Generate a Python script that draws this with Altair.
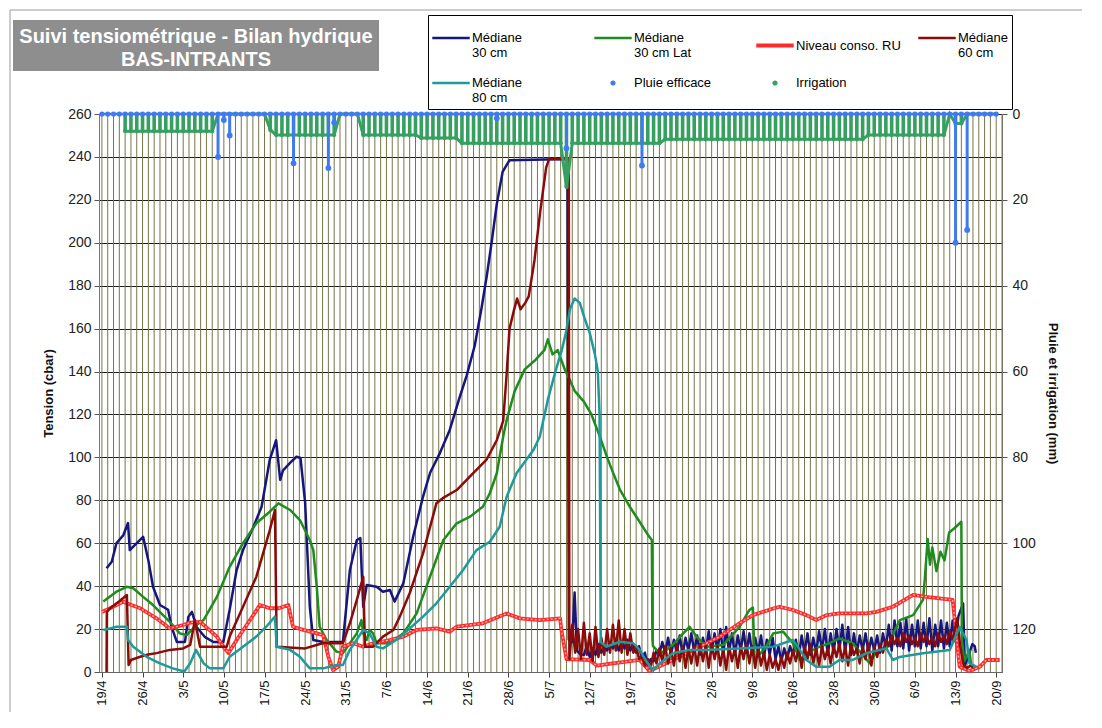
import altair as alt
import pandas as pd

FONT = "Liberation Sans"

# ---------------- legend / series ----------------
SERIES = ["Médiane|30 cm", "Médiane|30 cm Lat", "Niveau conso. RU", "Médiane|60 cm",
          "Médiane|80 cm", "Pluie efficace", "Irrigation"]
COLORS = ["#16167E", "#1E8C1E", "#FF2B2B", "#8B0B0B", "#1F9A9A", "#3F7AEE", "#36A060"]
LINE_SYM = "M-1,-0.07H1V0.07H-1Z"
RU_SYM = "M-1,-0.11H1V0.11H-1Z"
DOT_SYM = "M0,-0.14A0.14,0.14,0,1,1,0,0.14A0.14,0.14,0,1,1,0,-0.14Z"
SHAPES = [LINE_SYM, LINE_SYM, RU_SYM, LINE_SYM, LINE_SYM, DOT_SYM, DOT_SYM]

TITLE_LINES = ["Suivi tensiométrique  - Bilan hydrique", "BAS-INTRANTS"]
Y_LEFT_TITLE = "Tension (cbar)"
Y_RIGHT_TITLE = "Pluie et irrigation (mm)"
TICK_DAYS = list(range(0, 155, 7))          # days after 19/4 (weekly labels)
LEFT_TICKS = list(range(0, 261, 20))
RIGHT_TICKS = list(range(0, 121, 20))

# ---------------- tension series (day after 19/4, cbar) ----------------
M30_HEAD = [[0.8, 48.3], [1.7, 51.4], [2.5, 60], [3.7, 63.8], [4.5, 69.4], [4.8, 56.8], [6.0, 60],
            [7.1, 63], [8.0, 52], [8.8, 39.7], [10, 31.2], [11.4, 29], [12, 21], [12.9, 14], [14.3, 14],
            [14.9, 25.8], [15.5, 28], [16.3, 21], [17.7, 16.4], [19.2, 14], [20.9, 14], [22, 29],
            [23.2, 47.5], [24.3, 56.8], [26.1, 67.7], [27.5, 77], [28.9, 98.8], [30, 108], [30.7, 89.5],
            [31.2, 94], [32.4, 97.4], [33.5, 100.3], [34.2, 99.7], [35, 78.8], [35.8, 30.4], [36.4, 14.9],
            [38.1, 14], [41.5, 14], [42.7, 47.5], [43.9, 61.5], [44.5, 62.4], [45, 30.4], [45.6, 40.5],
            [47.3, 39.7], [48.4, 37.4], [49.6, 38.2], [50.4, 32.8], [51.9, 41.3], [53.6, 63], [55.3, 81.7],
            [56.5, 92.7], [58.2, 102], [59.9, 112.8], [61.6, 128], [62.8, 138], [64.2, 152], [65.4, 170],
            [66.3, 185], [67.1, 200], [68, 218], [69, 233], [70.2, 238.5], [80.2, 239], [80.4, 15],
            [81.0, 14], [81.4, 37], [81.8, 10], [82.5, 8]]
M30_NOISE_START = 83.0
M30_NOISE = [8, 12, 7, 11, 8, 13, 9, 12, 10, 13, 11, 14, 10, 14, 11, 15, 10, 13, 9, 12, 6, 9, 3, 6,
             5, 10, 8, 14, 9, 16, 8, 15, 9, 17, 8, 16, 10, 18, 9, 17, 8, 16, 10, 19, 9, 18, 10, 20,
             8, 21, 9, 18, 8, 17, 10, 19, 9, 18, 8, 16, 9, 17, 7, 15, 8, 16, 6, 12, 5, 11, 6, 12,
             8, 15, 7, 17, 9, 18, 8, 16, 9, 19, 10, 20, 8, 18, 9, 20, 10, 22, 9, 21, 8, 18, 9, 17,
             10, 18, 9, 16, 10, 17, 9, 18, 11, 22, 10, 24, 12, 23, 11, 25, 10, 22, 12, 24, 11, 23,
             12, 25, 10, 22, 12, 24, 11, 23, 12, 24, 14, 26]
M30_TAIL = [[148.3, 32], [148.6, 3], [149.4, 9], [149.9, 13], [150.3, 12], [150.5, 9]]

M30L_HEAD = [[0.24, 32.8], [2.5, 37.4], [4.3, 39.7], [5.4, 39], [7.1, 35], [8.8, 31.2], [11.7, 23.4],
             [13.4, 18], [14.6, 17.2], [16.3, 21.9], [17.5, 24.2], [19.8, 35], [22, 49], [24.3, 60],
             [26.6, 69.3], [28.9, 74.7], [30.4, 78.6], [32.4, 75.5], [34.1, 70.8], [35.8, 61.5],
             [36.4, 56.8], [37, 39.7], [37.5, 21.1], [38.7, 14.9], [40.4, 9.5], [41.5, 8.8], [42.7, 13.4],
             [43.9, 18], [44.7, 24.2], [45, 18], [45.6, 14.9], [46.1, 19.6], [46.7, 18], [47.3, 13.4],
             [49.6, 13.4], [51.9, 18], [54.2, 27.3], [56.5, 44.4], [58.8, 61.5], [61.1, 69.3],
             [63.4, 72.4], [65.6, 77], [66.8, 83.3], [68, 92.6], [69.1, 109.6], [69.7, 117.4],
             [71.1, 131], [72.8, 141], [74.5, 145], [76.2, 150], [76.8, 155], [77.6, 148], [78.5, 150],
             [79.7, 141], [80.6, 136], [81.4, 131], [83, 126], [84.3, 120], [85.7, 110], [87, 100],
             [88, 93], [89.2, 85], [90.9, 77], [92.6, 70], [94, 64], [94.7, 61.5], [94.8, 15],
             [94.9, 12], [96.1, 8.7], [97.2, 10.3], [98.3, 12.6],
             [100.1, 18], [101.2, 21], [102.4, 16.5], [104.1, 11.8], [107, 12.6], [109.8, 21],
             [111.5, 28.9], [112.1, 30], [112.4, 5.6], [114.4, 11.8], [115.6, 18], [117.3, 18.8],
             [119, 13.4], [120.2, 5.6], [121.3, 8.7], [123.6, 11.8], [125.3, 13.4], [127, 15.7],
             [129.3, 13.4], [131, 7.9], [132.2, 4.1], [133.4, 9.5], [135.1, 11], [137.4, 24.2],
             [139.7, 26.5], [141.4, 33.6], [141.7, 43], [142.2, 62], [142.6, 50], [143, 58], [143.7, 47],
             [144.4, 56], [145.1, 52], [145.9, 65], [146.8, 67], [148, 70], [148.1, 15], [148.5, 5],
             [149.4, 10], [149.7, 3]]

RU_PTS = [[0, 28], [1.4, 29.7], [3.7, 32.8], [4.3, 32], [6.6, 29.7], [9.4, 25], [11.7, 20.3], [14, 21.9],
          [15.2, 23], [16.9, 23.4], [19.8, 16.5], [20.9, 11.8], [21.8, 8.8], [23.2, 14.9], [25.5, 24.2],
          [27.2, 31.2], [28.9, 29.7], [30.5, 29.7], [32.1, 31.2], [32.9, 21.1], [34.7, 19.6], [37, 18],
          [38.1, 17.2], [39, 7.1], [39.8, 0.9], [40.7, 2.5], [41.5, 11.8], [43.3, 13.4], [45, 11.8],
          [46.7, 13.4], [49.6, 14.9], [51.9, 16.5], [54.2, 19.6], [57.6, 20.3], [59.9, 18.8],
          [61.1, 21.1], [65.6, 22.7], [69.7, 27.3], [72, 25], [75.4, 24.2], [78.9, 25], [79.1, 20],
          [80, 6], [84, 5.6], [85.2, 3], [88, 4], [92.6, 5.6], [94.3, 0.5], [98.3, 5.6], [102.4, 11],
          [106.4, 16.5], [109.8, 22.7], [112.1, 26.5], [115.6, 29.6], [116.7, 30.4], [119, 28.9],
          [121.3, 26.5], [123, 24.2], [124.8, 26.5], [127, 27.3], [131.6, 27.3], [133.4, 28],
          [136.2, 30.4], [139.7, 35.9], [142, 35], [146.5, 33.6], [147.1, 18], [147.7, 2.5],
          [149.4, 0.5], [151.2, 2.5], [152.3, 5.6], [154.6, 5.6]]

M60_HEAD = [[0.8, 0], [0.85, 28], [1.4, 29.7], [3, 33], [4.3, 35.9], [4.6, 3.3], [5, 5.6], [6.6, 7.1],
            [7.7, 8], [9.4, 8.8], [11.7, 10.3], [14, 11], [15.2, 12.6], [15.7, 19.6], [16, 24.2],
            [16.9, 11.8], [21.5, 11.8], [22, 16.5], [24.3, 30.4], [26.6, 44.4], [28.9, 66], [29.8, 75.5],
            [30.1, 11.8], [35, 11], [38, 13.4], [41.5, 13.4], [42.7, 22.7], [43.9, 33.6], [45, 44.4],
            [45.3, 11.8], [46.7, 11.8], [48.4, 16.5], [50.2, 19.6], [51.3, 25.8], [53, 36.7],
            [55.3, 55.3], [57.6, 78.6], [58.7, 81], [61.1, 84.8], [63.9, 92.6], [66.2, 98.8], [68, 108],
            [69.1, 117], [69.6, 135], [70.2, 160], [70.9, 168], [71.5, 174], [72.1, 169], [72.9, 172],
            [73.5, 175], [74.5, 192], [75.5, 215], [76.5, 235], [77, 239], [80.4, 239], [80.5, 6]]
M60_NOISE_START = 81.0
M60_NOISE = [22, 9, 20, 6, 23, 8, 18, 5, 21, 7, 16, 8, 20, 9, 22, 10, 24, 9, 20, 8, 18, 9, 12, 6,
             8, 3, 6, 2, 9, 4, 11, 5, 12, 4, 11, 3, 13, 5, 12, 2, 11, 4, 12, 3, 13, 5, 12, 2,
             13, 6, 12, 3, 11, 1, 12, 5, 11, 2, 12, 6, 13, 4, 12, 2, 11, 3, 9, 1, 8, 2, 6, 1,
             7, 2, 9, 4, 10, 5, 11, 2, 12, 6, 13, 4, 11, 3, 12, 6, 11, 4, 12, 7, 13, 5, 12, 3,
             13, 8, 11, 4, 12, 6, 13, 3, 12, 7, 13, 9, 15, 12, 17, 13, 16, 12, 18, 14, 17, 13,
             16, 12, 18, 14, 17, 13, 16, 12, 18, 14, 17, 13, 19, 15]
M60_TAIL = [[147.3, 25], [147.8, 12], [148.4, 3], [149, 2], [149.6, 3], [150, 2]]

M80_PTS = [[0.24, 19.6], [1.4, 20.3], [2.5, 21.1], [4.3, 21.1], [4.5, 14.9], [5.4, 11.8], [7.7, 7.1],
           [9.9, 4.1], [12.2, 1.7], [14.2, 0.2], [15.2, 4.1], [16.2, 10.3], [17.5, 4.1], [18.6, 1.7],
           [20.9, 1.7], [22, 7.1], [24.3, 11.8], [26.6, 16.5], [28.3, 21.1], [29.8, 25.8], [30.1, 11.8],
           [32.4, 10.3], [34.1, 7.1], [35.8, 1.7], [38.1, 1.7], [40.4, 3.3], [41.5, 3.3], [42.7, 10.3],
           [45, 19.6], [46.1, 18], [47.3, 11.8], [48.4, 11], [50.7, 14.9], [53, 20.3], [55.3, 25.8],
           [57.6, 32], [59.9, 39.7], [62.2, 47.5], [64.5, 56.8], [66.8, 60.7], [68.5, 67.7],
           [69.7, 81.7], [71.4, 92.6], [74.3, 103.4], [75.4, 109.6], [76.8, 127], [78.2, 141],
           [79.2, 150], [79.9, 158], [80.6, 169], [81.4, 174], [82.3, 172], [83.1, 165], [84, 158],
           [84.9, 148], [85.4, 140], [85.7, 120], [85.9, 14], [86.3, 13], [86.9, 11.8], [89.2, 14.1],
           [91.5, 13.4], [92.6, 10.3], [93.8, 4.8], [94.9, 0.9], [96.1, 4.1], [97.2, 6.4], [98.3, 8.7],
           [101.2, 10.3], [104.1, 10.3], [109.8, 11], [115.6, 11.8], [119, 14.9], [120.2, 10.3],
           [121.3, 5.6], [123, 2.5], [125.3, 2.5], [127, 5.6], [129.3, 5.6], [131.6, 8.7], [135.1, 11],
           [136.2, 5.6], [137.4, 7], [141.4, 8.7], [146, 10.3], [147.7, 21], [148.9, 14.9], [149.4, 4],
           [150.6, 2.5]]

# ---------------- rain & irrigation (mm, one value per day from 19/4) ----------------
RAIN = [0, 0, 0, 0, 0, 0, 0,   0, 0, 0, 0, 0, 0, 0,   0, 0, 0, 0, 0, 0, 10,
        1.4, 5, 0, 0, 0, 0, 0,   0, 0, 0, 0, 0, 11.5, 0,   0, 0, 0, 0, 12.6, 2, 0,
        0, 0, 0, 0, 0, 0, 0,   0, 0, 0, 0, 0, 0, 0,   0, 0, 0, 0, 0, 0, 0,
        0, 0, 0, 0, 0, 1, 0,   0, 0, 0, 0, 0, 0, 0,   0, 0, 0, 8, 0, 0, 0,
        0, 0, 0, 0, 0, 0, 0,   0, 0, 12, 0, 0, 0, 0,   0, 0, 0, 0, 0, 0, 0,
        0, 0, 0, 0, 0, 0, 0,   0, 0, 0, 0, 0, 0, 0,   0, 0, 0, 0, 0, 0, 0,
        0, 0, 0, 0, 0, 0, 0,   0, 0, 0, 0, 0, 0, 0,   0, 0, 0, 0, 0, 0, 0,
        30, 0, 27, 0, 0, 0, 0,   0]
IRRIG = [0, 0, 0, 0, 4, 4, 4,   4, 4, 4, 4, 4, 4, 4,   4, 4, 4, 4, 4, 4, 0,
         0, 0, 0, 0, 0, 0, 0,   0, 3.7, 4.9, 4.9, 4.9, 4.9, 4.9,   4.9, 4.9, 4.9, 4.9, 4.9, 4.9, 0,
         0, 0, 0, 4.9, 4.9, 4.9, 4.9,   4.9, 4.9, 4.9, 4.9, 4.9, 4.9, 5.6,
         5.6, 5.6, 5.6, 5.6, 5.6, 5.6, 6.8,   6.8, 6.8, 6.8, 6.8, 6.8, 6.8, 6.8,
         6.8, 6.8, 6.8, 6.8, 6.8, 6.8, 6.8,   6.8, 6.8, 6.8, 17, 6.8, 6.8, 6.8,
         6.8, 6.8, 6.8, 6.8, 6.8, 6.8, 6.8,   6.8, 6.8, 6.8, 6.8, 6.8, 6.8, 5.9,
         5.9, 5.9, 5.9, 5.9, 5.9, 5.9, 5.9,   5.9, 5.9, 5.9, 5.9, 5.9, 5.9, 5.9,
         5.9, 5.9, 5.9, 5.9, 5.9, 5.9, 5.9,   5.9, 5.9, 5.9, 5.9, 5.9, 5.9, 5.9,
         5.9, 5.9, 5.9, 5.9, 5.9, 5.9, 4.9,   4.9, 4.9, 4.9, 4.9, 4.9, 4.9, 4.9,
         4.9, 4.9, 4.9, 4.9, 4.9, 4.9, 0,   2.2, 2.2, 0, 0, 0, 0, 0,   0]
IRRIG_FIRST_DAY = 4

# ---------------- build tables ----------------
def noisy(start, vals):
    return [[start + 0.5 * k, v] for k, v in enumerate(vals)]

series_pts = {
    SERIES[0]: M30_HEAD + noisy(M30_NOISE_START, M30_NOISE) + M30_TAIL,
    SERIES[1]: M30L_HEAD,
    SERIES[2]: RU_PTS,
    SERIES[3]: M60_HEAD + noisy(M60_NOISE_START, M60_NOISE) + M60_TAIL,
    SERIES[4]: M80_PTS,
}
rows = []
for name, pts in series_pts.items():
    for i, (d, v) in enumerate(pts):
        rows.append({"d": d, "v": v, "serie": name, "i": i})
lines_df = pd.DataFrame(rows)

days = list(range(len(RAIN)))
rain_df = pd.DataFrame({"d": days, "mm": RAIN})
irr_df = pd.DataFrame({"d": days, "mm": IRRIG})
irr_df = irr_df[irr_df["d"] >= IRRIG_FIRST_DAY]
grid_df = pd.DataFrame({"d": list(range(0, 156))})
one = pd.DataFrame({"k": [0]})
legend_df = pd.DataFrame({"serie": SERIES})

# ---------------- encodings ----------------
x_scale = alt.Scale(domain=[-0.5, 155], nice=False, zero=False)
x_axis = alt.Axis(values=TICK_DAYS,
                  labelExpr="timeFormat(datetime(2010, 3, 19 + datum.value), '%-d/%-m')",
                  labelAngle=-90, labelFontSize=13, labelColor="#111", labelPadding=3,
                  tickSize=5, tickColor="#444", domainColor="#666", grid=False, title=None)
X = alt.X("d:Q", scale=x_scale, axis=x_axis)

yl_axis = alt.Axis(values=LEFT_TICKS, grid=True, gridColor="#1c1c1c", gridWidth=1,
                   labelFontSize=14, labelColor="#222", tickSize=5, tickColor="#555",
                   domainColor="#777", title=Y_LEFT_TITLE, titleFontSize=13,
                   titleFontWeight="bold", titleColor="#111", titlePadding=12, labelPadding=3)
YL = alt.Y("v:Q", scale=alt.Scale(domain=[0, 260], nice=False), axis=yl_axis)

yr_axis = alt.Axis(orient="right", values=RIGHT_TICKS, grid=False, labelFontSize=14,
                   labelColor="#222", tickSize=5, tickColor="#555", domainColor="#777",
                   title=Y_RIGHT_TITLE, titleFontSize=13, titleFontWeight="bold",
                   titleColor="#111", titlePadding=10, labelPadding=5)
yr_scale = alt.Scale(domain=[0, 130], reverse=True, nice=False)
YR = alt.Y("mm:Q", scale=yr_scale, axis=yr_axis)
YR0 = alt.Y("zero:Q", scale=yr_scale, axis=yr_axis)

color_scale = alt.Scale(domain=SERIES, range=COLORS)
shape_scale = alt.Scale(domain=SERIES, range=SHAPES)

# ---------------- left group: tension lines ----------------
vgrid = alt.Chart(grid_df).mark_rule(color="#76764a", strokeWidth=1).encode(x=X)

def line_layer(k, width=2.5):
    return (alt.Chart(lines_df).transform_filter(alt.datum.serie == SERIES[k])
            .mark_line(strokeWidth=width, strokeJoin="round", color=COLORS[k])
            .encode(x=X, y=YL, order="i:Q"))

ru_texture = (alt.Chart(lines_df).transform_filter(alt.datum.serie == SERIES[2])
              .mark_line(strokeWidth=1.4, color="#FFA8A8", strokeDash=[2, 2])
              .encode(x=X, y=YL, order="i:Q"))

left = alt.layer(
    vgrid,
    line_layer(0),
    line_layer(1),
    line_layer(2, 3.8),
    ru_texture,
    line_layer(3),
    line_layer(4),
)

# ---------------- right group: rain & irrigation ----------------
irr_rules = (alt.Chart(irr_df).transform_filter(alt.datum.mm > 0)
             .transform_calculate(zero="0")
             .mark_rule(color=COLORS[6], strokeWidth=3.6)
             .encode(x=X, y=YR0, y2="mm:Q"))
irr_line = alt.Chart(irr_df).mark_line(
    color=COLORS[6], strokeWidth=3,
    point=alt.OverlayMarkDef(color=COLORS[6], size=18, filled=True)).encode(x=X, y=YR)
rain_line = (alt.Chart(rain_df).transform_calculate(zero="0")
             .mark_rule(color=COLORS[5], strokeWidth=2.5)
             .encode(x="min(d):Q", x2="max(d):Q", y=YR0))
rain_base = alt.Chart(rain_df).transform_calculate(zero="0").mark_circle(
    size=26, color=COLORS[5], opacity=1).encode(x=X, y=YR0)
rain_spikes = (alt.Chart(rain_df).transform_filter(alt.datum.mm > 0)
               .transform_calculate(zero="0")
               .mark_rule(color=COLORS[5], strokeWidth=3)
               .encode(x=X, y=YR0, y2="mm:Q"))
rain_tips = alt.Chart(rain_df).transform_filter(alt.datum.mm > 0).mark_circle(
    size=34, color=COLORS[5], opacity=1).encode(x=X, y=YR)

right = alt.layer(irr_rules, irr_line, rain_line, rain_base, rain_spikes, rain_tips)

# ---------------- legend (native legend driven by the series list) ----------------
legend = alt.Legend(orient="none", legendX=329, legendY=-99, direction="horizontal", columns=4,
                    title=None, labelExpr="split(datum.label, '|')", labelFont=FONT,
                    labelFontSize=13, labelColor="#000", labelBaseline="middle", labelOffset=2,
                    labelLimit=250, symbolSize=1400, symbolStrokeWidth=0, symbolOpacity=1,
                    fillColor="white", strokeColor="#000", padding=4, rowPadding=4,
                    columnPadding=17, gridAlign="all")
legend_layer = alt.Chart(legend_df).mark_point(filled=True, opacity=0).encode(
    x=alt.value(0), y=alt.value(0),
    color=alt.Color("serie:N", scale=color_scale, legend=legend),
    shape=alt.Shape("serie:N", scale=shape_scale, legend=legend))

# ---------------- title box and frame ----------------
title_box = alt.Chart(one).mark_rect(color="#8E8E8E").encode(
    x=alt.value(-86), x2=alt.value(280), y=alt.value(-94), y2=alt.value(-43))
title_t1 = alt.Chart(one).mark_text(font=FONT, fontSize=20, fontWeight="bold", color="white",
                                    align="center", baseline="middle").encode(
    x=alt.value(97), y=alt.value(-77), text=alt.value(TITLE_LINES[0]))
title_t2 = alt.Chart(one).mark_text(font=FONT, fontSize=20, fontWeight="bold", color="white",
                                    align="center", baseline="middle").encode(
    x=alt.value(97), y=alt.value(-54), text=alt.value(TITLE_LINES[1]))
frame_top = alt.Chart(one).mark_rule(color="#9a9a9a", strokeWidth=1).encode(
    x=alt.value(-89), x2=alt.value(995), y=alt.value(-104))
frame_left = alt.Chart(one).mark_rule(color="#9a9a9a", strokeWidth=1).encode(
    x=alt.value(-89), y=alt.value(-104), y2=alt.value(620))

chart = (alt.layer(legend_layer, left, right, title_box, title_t1, title_t2, frame_top, frame_left)
         .resolve_scale(y="independent")
         .properties(width=903, height=558,
                     padding={"left": 91, "top": 106, "right": 80, "bottom": 40},
                     autosize=alt.AutoSizeParams(type="none"), background="white")
         .configure_view(fill="#FCFBC8", stroke="#555")
         .configure(font=FONT))

chart.save("out.html", embed_options={"renderer": "svg", "actions": False})
